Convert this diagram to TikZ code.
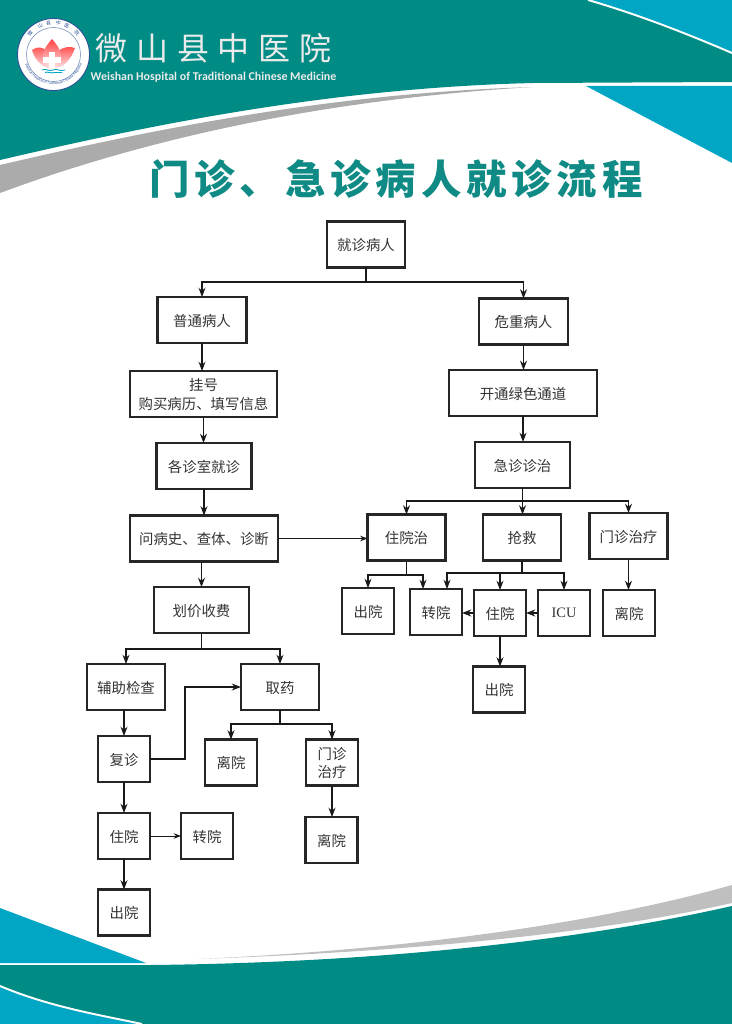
\documentclass[tikz,border=0pt]{standalone}
\usepackage{fontspec}
\usepackage{xcolor}
\usepackage{tikz}
\usetikzlibrary{arrows.meta, calc, decorations.text}
\setmainfont{Noto Sans CJK SC}
\newfontfamily\titlefont[LetterSpace=12]{Noto Sans CJK SC}
\newfontfamily\hospfont[LetterSpace=28]{Noto Sans CJK SC}
\newfontfamily\enfont{Carlito}
\newfontfamily\icufont{Liberation Serif}
\definecolor{tealbar}{HTML}{008B85}
\definecolor{bluebar}{HTML}{00A6C4}
\definecolor{titleteal}{HTML}{0F8A84}
\definecolor{logoblue}{HTML}{2A4E96}

\begin{document}
\begin{tikzpicture}[
        x=0.02cm, y=-0.02cm,
        >={Stealth[scale=0.8]},
        base/.style={align=center, draw=black!85, line width=1.2pt, outer sep=0pt, inner sep=0pt, font=\fontsize{8.2}{10.5}\selectfont, text=black!80, text depth=0pt, minimum height=0.92cm},
        smallbox/.style={base, minimum width=1.04cm},
        midbox/.style={base, minimum width=1.56cm},
        normalbox/.style={base, minimum width=1.78cm},
        deptbox/.style={base, minimum width=1.9cm},
        widebox/.style={base, minimum width=2.95cm},
        arrow/.style={->, line width=0.8pt, draw=black!90},
        busline/.style={line width=1.1pt, draw=black!90},
        thinarrow/.style={->, line width=0.5pt, draw=black!90}
    ]
        \useasboundingbox (0,0) rectangle (732,1024);

        % top band
        \fill[tealbar] (0,0) -- (732,0) -- (732,82) -- (533,83) .. controls (330,88) and (150,125) .. (0,160) -- cycle;
        \fill[black!33] (0,165) .. controls (150,130) and (330,93) .. (533,87) .. controls (350,98) and (170,130) .. (0,193) -- cycle;
        \fill[bluebar] (588,0) .. controls (640,15) and (690,35) .. (732,53) -- (732,0) -- cycle;
        \draw[white, line width=1.1pt] (588,0) .. controls (640,15) and (690,35) .. (732,53);
        \fill[bluebar] (586,86) -- (732,86) -- (732,163) -- cycle;

        % bottom band
        \fill[tealbar] (0,965) -- (150,965) .. controls (350,963) and (560,945) .. (732,906) -- (732,1024) -- (0,1024) -- cycle;
        \fill[black!25] (198,959) .. controls (400,950) and (590,925) .. (732,885) -- (732,903) .. controls (590,935) and (400,952) .. (198,959) -- cycle;
        \fill[bluebar] (0,908) -- (146,963) -- (0,963) -- cycle;
        \fill[bluebar] (0,986) .. controls (50,1007) and (100,1015) .. (142,1024) -- (0,1024) -- cycle;
        \draw[white, line width=1.1pt] (0,986) .. controls (50,1007) and (100,1015) .. (142,1024);

        % logo
        \draw[fill=white, draw=logoblue, line width=0.5pt] (53.5,54.5) circle (36);
        \draw[logoblue!70, line width=0.3pt] (53.5,54.5) circle (27);
        \foreach \ch/\ang in {微/-138,山/-115,县/-99,中/-81,医/-65,院/-42}
            \node[text=logoblue, font=\fontsize{2.8}{3}\selectfont, inner sep=0pt, rotate={-\ang-90}] (logo\ang) at ($(53.5,54.5)+(\ang:31.5)$) {\ch};
        \path[decorate, decoration={text along path, text align={center}, text color=logoblue, text={|\enfont\fontsize{2.1}{3}\selectfont|Weishan Hospital of Traditional Chinese Medicine}}] (53.5,54.5) ++(172:30) arc[start angle=172, end angle=8, radius=30];
        \shade[top color=red!70, bottom color=red!8] (32,50) .. controls (37,46) and (43,47) .. (47,51) .. controls (50,58) and (52,64) .. (52,69) .. controls (42,68) and (35,60) .. (32,50) -- cycle;
        \shade[top color=red!70, bottom color=red!8] (75,48) .. controls (70,46) and (63,47) .. (58,51) .. controls (55,58) and (53,64) .. (53,69) .. controls (63,68) and (71,60) .. (75,48) -- cycle;
        \shade[top color=red!75, bottom color=red!10] (52,39) .. controls (56,44) and (61,49) .. (61,56) .. controls (61,62) and (57,66) .. (52,67) .. controls (47,66) and (43,62) .. (43,56) .. controls (43,49) and (48,44) .. (52,39) -- cycle;
        \fill[white] (49,52) rectangle (55,68);
        \fill[white] (43,57) rectangle (61,63);
        \draw[bluebar, line width=0.5pt] (42,70) .. controls (46,68) and (49,72) .. (53,70) .. controls (57,68) and (60,72) .. (65,70);
        \draw[bluebar, line width=0.5pt] (45,72.5) .. controls (48,71) and (51,74) .. (54,72.5) .. controls (57,71) and (59,74) .. (62,72.5);

        % titles
        \node[text=white!92!black, font=\hospfont\fontsize{18.2}{20}\selectfont] (hospital) at (213.5,48) {微山县中医院};
        \node[text=white!92!black, font=\enfont\bfseries\fontsize{6.8}{8}\selectfont] (hospitalen) at (213.5,77) {Weishan Hospital of Traditional Chinese Medicine};
        \node[text=titleteal, font=\titlefont\bfseries\fontsize{23}{25}\selectfont] (title) at (396,179.5) {门诊、急诊病人就诊流程};

        % boxes, left branch
        \node[midbox] (visit) at (366,244.5) {就诊病人};
        \node[normalbox] (normal) at (202,320) {普通病人};
        \node[widebox] (register) at (203.5,394) {挂号\\购买病历、填写信息};
        \node[deptbox] (dept) at (204,466) {各诊室就诊};
        \node[widebox] (inquiry) at (204,538.5) {问病史、查体、诊断};
        \node[deptbox] (pricing) at (201.5,610) {划价收费};
        \node[midbox] (exam) at (126,687) {辅助检查};
        \node[midbox] (medicine) at (280,687) {取药};
        \node[smallbox] (review) at (124,759) {复诊};
        \node[smallbox] (leaveA) at (231,762.5) {离院};
        \node[smallbox] (clinicA) at (332,762.5) {门诊\\治疗};
        \node[smallbox] (stayA) at (124,836) {住院};
        \node[smallbox] (transferA) at (207,836) {转院};
        \node[smallbox] (leaveB) at (331.5,840) {离院};
        \node[smallbox] (outA) at (124,912.5) {出院};

        % boxes, right branch
        \node[normalbox] (critical) at (523.5,321.5) {危重病人};
        \node[widebox] (green) at (523,393) {开通绿色通道};
        \node[deptbox] (emergency) at (522.5,465) {急诊诊治};
        \node[midbox] (stayB) at (406.5,537.5) {住院治};
        \node[midbox] (rescue) at (522,537.5) {抢救};
        \node[midbox] (clinicB) at (628.5,536) {门诊治疗};
        \node[smallbox] (outB) at (368,611) {出院};
        \node[smallbox] (transferB) at (436,612) {转院};
        \node[smallbox] (stayC) at (500,613) {住院};
        \node[smallbox, font=\icufont\fontsize{8.2}{10.5}\selectfont] (icu) at (564,613) {ICU};
        \node[smallbox] (leaveC) at (629,613) {离院};
        \node[smallbox] (outC) at (499,689.5) {出院};

        % bus points
        \coordinate (visitbus) at (366,282);
        \coordinate (ebus) at (522.5,501);
        \coordinate (pricebus) at (201.5,649);
        \coordinate (medbus) at (280,724);
        \coordinate (staybus) at (406.5,575);
        \coordinate (rescuebus) at (522,573);
        \coordinate (reviewbend) at (185,759);

        \draw[busline] (visit.south) -- (visitbus);
        \draw[arrow] (visitbus) -| (normal.north);
        \draw[arrow] (visitbus) -| (critical.north);
        \draw[arrow] (normal.south) -- (normal.south |- register.north);
        \draw[arrow] (register.south) -- (register.south |- dept.north);
        \draw[arrow] (dept.south) -- (dept.south |- inquiry.north);
        \draw[arrow] (pricing.north |- inquiry.south) -- (pricing.north);
        \draw[thinarrow] (inquiry.east) -- (inquiry.east -| stayB.west);

        \draw[busline] (pricing.south) -- (pricebus);
        \draw[arrow] (pricebus) -| (exam.north);
        \draw[arrow] (pricebus) -| (medicine.north);
        \draw[arrow] (review.north |- exam.south) -- (review.north);
        \draw[arrow] (review) -- (stayA);
        \draw[arrow] (stayA) -- (outA);
        \draw[thinarrow] (stayA) -- (transferA);
        \draw[arrow] (review.east) -- (reviewbend) |- (medicine.west);

        \draw[busline] (medicine.south) -- (medbus);
        \draw[arrow] (medbus) -| (leaveA.north);
        \draw[arrow] (medbus) -| (clinicA.north);
        \draw[arrow] (clinicA.south) -- (clinicA.south |- leaveB.north);

        \draw[arrow] (critical.south) -- (critical.south |- green.north);
        \draw[arrow] (green.south) -- (green.south |- emergency.north);
        \draw[busline] (emergency.south) -- (ebus);
        \draw[arrow] (ebus) -| (stayB.north);
        \draw[arrow] (ebus) -- (rescue.north -| ebus);
        \draw[arrow] (ebus) -| (clinicB.north);

        \draw[busline] (stayB.south) -- (staybus);
        \draw[arrow] (staybus) -| (outB.north);
        \draw[arrow] (staybus) -| ([xshift=-0.26cm]transferB.north);
        \draw[busline] (rescue.south) -- (rescuebus);
        \draw[arrow] (rescuebus) -| ([xshift=0.22cm]transferB.north);
        \draw[arrow] (rescuebus) -| (stayC.north);
        \draw[arrow] (rescuebus) -| (icu.north);
        \draw[arrow] (stayC.west) -- (stayC.west -| transferB.east);
        \draw[arrow] (icu) -- (stayC);
        \draw[arrow] (stayC.south) -- (stayC.south |- outC.north);
        \draw[arrow] (clinicB.south) -- (clinicB.south |- leaveC.north);

    \end{tikzpicture}
\end{document}
